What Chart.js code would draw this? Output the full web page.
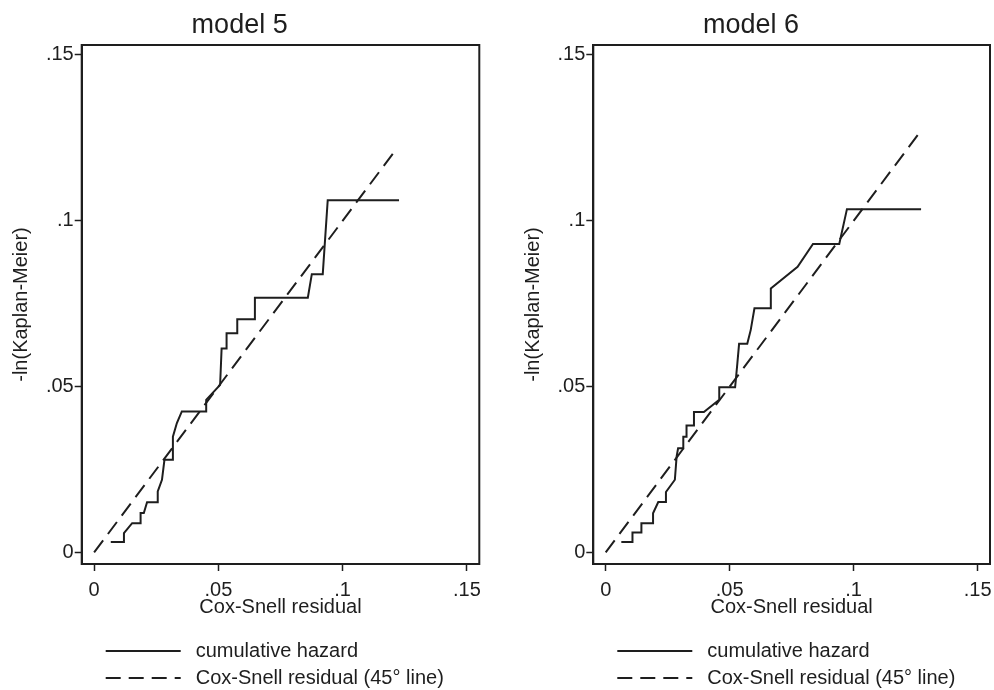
<!DOCTYPE html>
<html>
<head>
<meta charset="utf-8">
<script src="https://cdn.jsdelivr.net/npm/chart.js@4"></script>
<style>
html,body{margin:0;padding:0;background:#fff;}
#wrap{position:relative;width:994px;height:690px;overflow:hidden;background:#fff;}
#wrap canvas{position:absolute;top:0;}
</style>
</head>
<body>
<div id="wrap">
<canvas id="c1" width="497" height="690" style="left:0px"></canvas>
<canvas id="c2" width="497" height="690" style="left:497px"></canvas>
</div>
<script>
// ---------- data ----------
const panelTitles = ['model 5', 'model 6'];
const seriesNames = ['cumulative hazard', 'Cox-Snell residual (45\u00B0 line)'];
const xAxisTitle = 'Cox-Snell residual';
const yAxisTitle = '-ln(Kaplan-Meier)';
const tickValues = [0, 0.05, 0.1, 0.15];
const tickLabels = ['0', '.05', '.1', '.15'];

// model 5: cumulative hazard (Cox-Snell residual vs -ln KM)
const m5HazardX = [0.0067,0.012,0.012,0.0153,0.0187,0.0187,0.020,0.0213,0.0256,0.0256,0.0273,0.0283,0.0317,0.0317,0.0333,0.0353,0.0451,0.0451,0.0507,0.0513,0.0533,0.0533,0.0576,0.0576,0.0647,0.0647,0.086,0.0876,0.092,0.094,0.1227];
const m5HazardY = [0.0031,0.0031,0.0058,0.0088,0.0088,0.0119,0.0119,0.0151,0.0151,0.0184,0.0219,0.0279,0.0279,0.0349,0.039,0.0425,0.0425,0.046,0.0505,0.0615,0.0615,0.0661,0.0661,0.0703,0.0703,0.0768,0.0768,0.0839,0.0839,0.1062,0.1062];
const m5DiagX = [0, 0.121];
const m5DiagY = [0, 0.121];

// model 6
const m6HazardX = [0.0063,0.0108,0.0108,0.0144,0.0144,0.0191,0.0191,0.0212,0.0243,0.0243,0.0279,0.0286,0.0292,0.0313,0.0313,0.0326,0.0326,0.0356,0.0356,0.0396,0.0458,0.0458,0.0522,0.0531,0.0538,0.0571,0.0585,0.060,0.0666,0.0666,0.0774,0.0836,0.0942,0.0973,0.1272];
const m6HazardY = [0.0031,0.0031,0.006,0.006,0.0088,0.0088,0.0118,0.0152,0.0152,0.0182,0.0219,0.0289,0.0314,0.0314,0.0349,0.0349,0.0383,0.0383,0.0423,0.0423,0.046,0.0498,0.0498,0.057,0.0629,0.0629,0.0671,0.0736,0.0736,0.0796,0.0861,0.093,0.093,0.1035,0.1035];
const m6DiagX = [0, 0.127];
const m6DiagY = [0, 0.127];

// ---------- style ----------
const ink = '#1e1e1e';
const fam = '"Liberation Sans", Arial, Helvetica, sans-serif';
const labelFont = {family: fam, size: 20, weight: 'normal'};

const framePlugin = {
  id: 'frame',
  afterDraw(chart) {
    const a = chart.chartArea, ctx = chart.ctx;
    ctx.save();
    ctx.strokeStyle = ink;
    ctx.lineWidth = 2;
    ctx.setLineDash([]);
    ctx.strokeRect(a.left, a.top, a.right - a.left, a.bottom - a.top);
    ctx.restore();
  }
};

const legendPlugin = {
  id: 'stataLegend',
  afterDraw(chart) {
    const a = chart.chartArea, ctx = chart.ctx;
    const rowsY = [a.bottom + 87, a.bottom + 114];
    ctx.save();
    chart.data.datasets.forEach((ds, i) => {
      const y = rowsY[i];
      ctx.beginPath();
      ctx.strokeStyle = ds.borderColor;
      ctx.lineWidth = ds.borderWidth;
      ctx.setLineDash(ds.borderDash || []);
      ctx.moveTo(a.left + 24, y);
      ctx.lineTo(a.left + 99, y);
      ctx.stroke();
      ctx.setLineDash([]);
      ctx.fillStyle = ink;
      ctx.font = '20px ' + fam;
      ctx.textAlign = 'left';
      ctx.textBaseline = 'middle';
      ctx.fillText(ds.label, a.left + 114, y);
    });
    ctx.restore();
  }
};

function pts(xs, ys) { return xs.map((x, i) => ({x: x, y: ys[i]})); }

function makeChart(id, title, hx, hy, dx, dy, padLeft, padRight, yWidth) {
  return new Chart(document.getElementById(id), {
    type: 'scatter',
    data: {
      datasets: [
        {label: seriesNames[0], data: pts(hx, hy), showLine: true, borderColor: ink, borderWidth: 2,
         pointRadius: 0, pointHoverRadius: 0, tension: 0, fill: false},
        {label: seriesNames[1], data: pts(dx, dy), showLine: true, borderColor: ink, borderWidth: 2,
         borderDash: [15, 8], pointRadius: 0, pointHoverRadius: 0, tension: 0, fill: false}
      ]
    },
    options: {
      responsive: false,
      animation: false,
      devicePixelRatio: 1,
      events: [],
      layout: {padding: {left: padLeft, right: padRight, top: 0, bottom: 71}},
      plugins: {
        legend: {display: false},
        tooltip: {enabled: false},
        title: {display: true, text: title, color: ink,
                font: {family: fam, size: 27, weight: 'normal'},
                padding: {top: 9.7, bottom: 2.9}}
      },
      scales: {
        x: {
          type: 'linear', min: -0.005, max: 0.155,
          afterBuildTicks: s => { s.ticks = tickValues.map(v => ({value: v})); },
          afterFit: s => { s.height = 55; s.paddingLeft = 0; s.paddingRight = 0; },
          ticks: {callback: (v, i) => tickLabels[i], font: labelFont, color: ink,
                  padding: 7, maxRotation: 0, autoSkip: false},
          grid: {drawOnChartArea: false, drawTicks: true, tickLength: 7, tickColor: ink, tickWidth: 1.5},
          border: {display: true, color: ink, width: 2},
          title: {display: true, text: xAxisTitle, font: labelFont, color: ink, padding: {top: 0, bottom: 0}}
        },
        y: {
          type: 'linear', min: -0.0035, max: 0.153,
          afterBuildTicks: s => { s.ticks = tickValues.map(v => ({value: v})); },
          afterFit: s => { s.width = yWidth; s.paddingTop = 0; s.paddingBottom = 0; },
          ticks: {callback: (v, i) => tickLabels[i], font: labelFont, color: ink,
                  padding: 1, autoSkip: false},
          grid: {drawOnChartArea: false, drawTicks: true, tickLength: 7, tickColor: ink, tickWidth: 1.5},
          border: {display: true, color: ink, width: 2},
          title: {display: true, text: yAxisTitle, font: labelFont, color: ink, padding: {top: 9, bottom: 0}}
        }
      }
    },
    plugins: [framePlugin, legendPlugin]
  });
}

makeChart('c1', panelTitles[0], m5HazardX, m5HazardY, m5DiagX, m5DiagY, 0, 17.7, 81.7);
makeChart('c2', panelTitles[1], m6HazardX, m6HazardY, m6DiagX, m6DiagY, 15, 4, 81.3);
</script>
</body>
</html>
